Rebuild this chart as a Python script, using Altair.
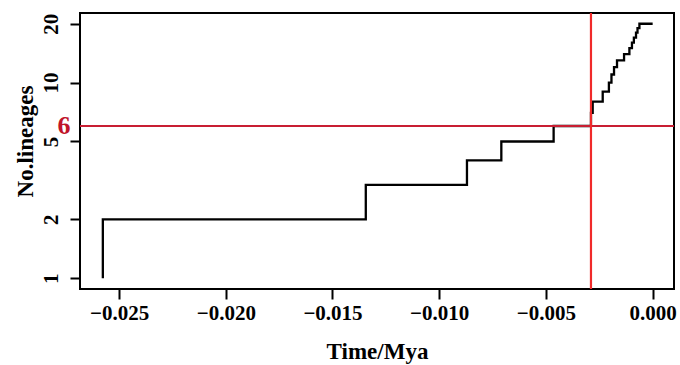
import altair as alt
import pandas as pd

# Lineage-through-time steps: time (Mya, negative = past) at which the count rises
step_times = [-0.02576, -0.02576, -0.01344, -0.00870, -0.00709, -0.00464,
              -0.00289, -0.00281, -0.00234, -0.00205, -0.00193, -0.00181,
              -0.00167, -0.00134, -0.00109, -0.00097, -0.00088, -0.00078,
              -0.00071, -0.00062, 0.0]
lineages = [1, 2, 3, 4, 5, 6, 7, 8, 9, 10, 11, 12, 13, 14, 15, 16, 17, 18, 19, 20, 20]

# Reference marks: lineage threshold and the time it is crossed
cutoff_lineages = 6
cutoff_time = -0.00289

x_ticks = [-0.025, -0.020, -0.015, -0.010, -0.005, 0.0]
y_ticks = [1, 2, 5, 10, 20]

FONT = "Liberation Serif"

ltt = pd.DataFrame({
    "order": list(range(len(step_times))),
    "time": step_times,
    "n": lineages,
})

x_scale = alt.Scale(domain=[-0.02683, 0.001], nice=False, zero=False)
y_scale = alt.Scale(type="log", domain=[0.88, 22.7], nice=False)

line = alt.Chart(ltt).mark_line(
    interpolate="step-after", color="black", strokeWidth=2.3
).encode(
    x=alt.X("time:Q", scale=x_scale,
            axis=alt.Axis(values=x_ticks, format=".3f", title="Time/Mya",
                          labelBaseline="alphabetic", labelPadding=20,
                          titleBaseline="alphabetic", titleY=69)),
    y=alt.Y("n:Q", scale=y_scale,
            axis=alt.Axis(values=y_ticks, format="d", title="No.lineages",
                          labelAngle=270, labelAlign="center",
                          labelBaseline="alphabetic", labelPadding=13,
                          titleAngle=270, titleAlign="center",
                          titleBaseline="alphabetic", titleX=-48, titleY=128)),
    order=alt.Order("order:Q"),
)

hline = alt.Chart(pd.DataFrame({"n": [cutoff_lineages]})).mark_rule(
    color="#c81e32", strokeWidth=2.2
).encode(y=alt.Y("n:Q", scale=y_scale))

vline = alt.Chart(pd.DataFrame({"time": [cutoff_time]})).mark_rule(
    color="#f02a2a", strokeWidth=2.2
).encode(x=alt.X("time:Q", scale=x_scale))

label = alt.Chart(pd.DataFrame({"n": [cutoff_lineages]})).mark_text(
    color="#c0142a", font=FONT, fontWeight="bold", fontSize=26,
    align="center", baseline="middle"
).encode(
    x=alt.value(-16),
    y=alt.Y("n:Q", scale=y_scale),
    text=alt.Text("n:Q", format="d"),
)

chart = alt.layer(line, hline, vline, label).properties(
    width=594,
    height=276,
    padding={"left": 80, "top": 13, "right": 6, "bottom": 76},
    autosize=alt.AutoSizeParams(type="none"),
).configure_view(
    stroke="black", strokeWidth=2
).configure_axis(
    domain=False, grid=False,
    tickColor="black", tickWidth=2, tickSize=10,
    labelFont=FONT, labelFontWeight="bold", labelFontSize=21, labelColor="black",
    titleFont=FONT, titleFontWeight="bold", titleFontSize=23, titleColor="black",
)

chart.save("out.html", embed_options={"renderer": "svg", "actions": False})
